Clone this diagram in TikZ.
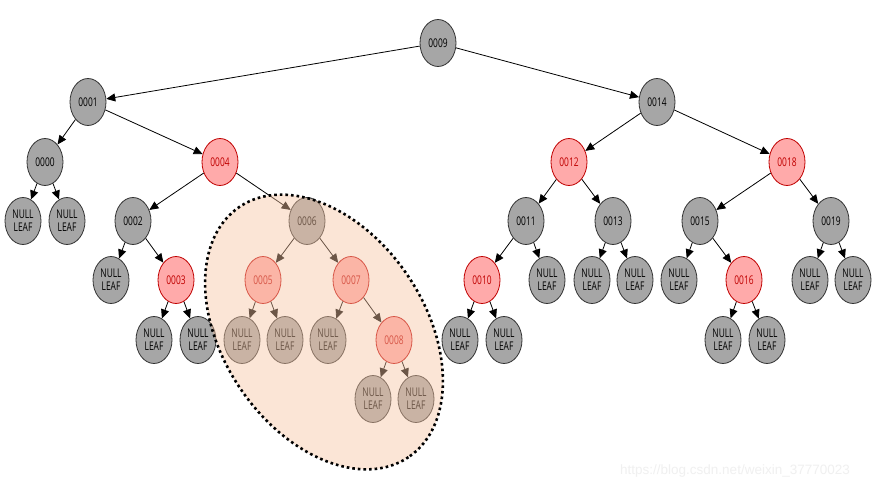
\documentclass[tikz,border=0pt]{standalone}
\usepackage{fontspec}
\setmainfont{Liberation Sans}
\newfontfamily\nodefont[FakeStretch=0.7]{Open Sans}
\usetikzlibrary{shapes.geometric,arrows.meta}
\definecolor{nodegray}{RGB}{166,166,166}
\definecolor{nodeline}{RGB}{50,50,50}
\definecolor{redfill}{RGB}{255,170,170}
\definecolor{redline}{RGB}{192,0,0}
\definecolor{redtext}{RGB}{192,0,0}
\definecolor{overlaycol}{RGB}{246,196,162}
\definecolor{markcol}{RGB}{240,240,240}
\begin{document}
\begin{tikzpicture}[x=1pt,y=-1pt,
  tn/.style={ellipse, draw=nodeline, fill=nodegray, line width=0.8pt,
    minimum width=36pt, minimum height=47pt, inner sep=0pt,
    font=\nodefont\fontsize{12}{13}\selectfont, align=center, text=black},
  rn/.style={tn, fill=redfill, draw=redline, text=redtext},
  lf/.style={tn},
  edge/.style={-{Triangle[length=9pt,width=8pt]}, line width=0.8pt, black},
]
\useasboundingbox[fill=white] (0,0) rectangle (880,489);

% level 0-1
\node[tn] (n9) at (438,43) {0009};
\node[tn] (n1) at (88,102) {0001};
\node[tn] (n14) at (657,102) {0014};
% level 2
\node[tn] (n0) at (45,162) {0000};
\node[rn] (n4) at (220,162) {0004};
\node[rn] (n12) at (569,162) {0012};
\node[rn] (n18) at (787,162) {0018};
% level 3
\node[lf] (l0a) at (23,221) {NULL\\LEAF};
\node[lf] (l0b) at (67,221) {NULL\\LEAF};
\node[tn] (n2) at (133,221) {0002};
\node[tn] (n6) at (307,221) {0006};
\node[tn] (n11) at (526,221) {0011};
\node[tn] (n13) at (613,221) {0013};
\node[tn] (n15) at (700,221) {0015};
\node[tn] (n19) at (831,221) {0019};
% level 4
\node[lf] (l2a) at (111,280) {NULL\\LEAF};
\node[rn] (n3) at (176,280) {0003};
\node[rn] (n5) at (263,280) {0005};
\node[rn] (n7) at (351,280) {0007};
\node[rn] (n10) at (482,280) {0010};
\node[lf] (l11b) at (547,280) {NULL\\LEAF};
\node[lf] (l13a) at (592,280) {NULL\\LEAF};
\node[lf] (l13b) at (635,280) {NULL\\LEAF};
\node[lf] (l15a) at (679,280) {NULL\\LEAF};
\node[rn] (n16) at (744,280) {0016};
\node[lf] (l19a) at (810,280) {NULL\\LEAF};
\node[lf] (l19b) at (853,280) {NULL\\LEAF};
% level 5
\node[lf] (l3a) at (154,340) {NULL\\LEAF};
\node[lf] (l3b) at (198,340) {NULL\\LEAF};
\node[lf] (l5a) at (242,340) {NULL\\LEAF};
\node[lf] (l5b) at (285,340) {NULL\\LEAF};
\node[lf] (l7a) at (328,340) {NULL\\LEAF};
\node[rn] (n8) at (394,340) {0008};
\node[lf] (l10a) at (460,340) {NULL\\LEAF};
\node[lf] (l10b) at (504,340) {NULL\\LEAF};
\node[lf] (l16a) at (723,340) {NULL\\LEAF};
\node[lf] (l16b) at (767,340) {NULL\\LEAF};
% level 6
\node[lf] (l8a) at (373,399) {NULL\\LEAF};
\node[lf] (l8b) at (416,399) {NULL\\LEAF};

% edges
\foreach \a/\b in {n9/n1, n9/n14, n1/n0, n1/n4, n0/l0a, n0/l0b, n4/n2, n4/n6,
  n2/l2a, n2/n3, n3/l3a, n3/l3b, n6/n5, n6/n7, n5/l5a, n5/l5b, n7/l7a, n7/n8,
  n8/l8a, n8/l8b, n14/n12, n14/n18, n12/n11, n12/n13, n11/n10, n11/l11b,
  n10/l10a, n10/l10b, n13/l13a, n13/l13b, n18/n15, n18/n19, n15/l15a, n15/n16,
  n16/l16a, n16/l16b, n19/l19a, n19/l19b}
  \draw[edge] (\a) -- (\b);

% highlighted region
\fill[overlaycol, fill opacity=0.44, shift={(324,332)}, rotate=-56]
  (0,0) ellipse [x radius=151, y radius=101];
\draw[black, line width=2.6pt, dash pattern=on 2.6pt off 3pt, shift={(324,332)}, rotate=-56]
  (0,0) ellipse [x radius=151, y radius=101];

\node[text=markcol, font=\fontsize{13.5}{15}\selectfont, inner sep=0pt] (wm) at (735,471) {https://blog.csdn.net/weixin\_37770023};
\end{tikzpicture}
\end{document}
